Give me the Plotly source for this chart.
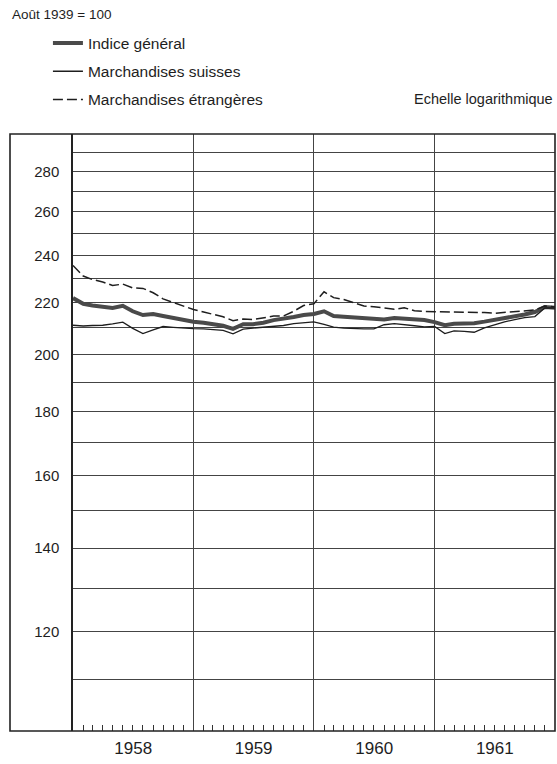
import plotly.graph_objects as go
import pandas as pd

# Monthly values, Jan 1958 .. Jan 1962 (month boundaries)
months = pd.date_range("1958-01-01", "1962-01-01", freq="MS")

indice_general = [221.8, 219.5, 218.8, 218.2, 217.8, 218.7, 216.5, 215.0, 215.4, 214.6,
                  213.8, 213.0, 212.4, 212.0, 211.6, 210.8, 209.6, 211.4, 211.4, 212.0,
                  213.0, 213.4, 214.2, 215.0, 215.4, 216.5, 214.6, 214.3, 214.0, 213.6,
                  213.2, 213.2, 213.8, 213.5, 213.1, 213.0, 212.2, 211.0, 211.6, 211.8,
                  211.8, 212.4, 213.0, 213.7, 214.4, 215.2, 216.2, 218.2, 217.9]

marchandises_suisses = [211.0, 210.7, 210.9, 211.0, 211.5, 212.2, 209.8, 207.8, 209.2, 210.5,
                        210.2, 209.9, 209.7, 209.6, 209.4, 209.0, 207.7, 209.5, 209.9, 210.3,
                        210.6, 210.9, 211.6, 212.0, 212.3, 211.3, 210.3, 209.9, 209.7, 209.6,
                        209.6, 211.2, 211.6, 211.1, 210.8, 210.4, 210.5, 207.8, 208.8, 208.6,
                        208.3, 210.0, 211.2, 212.3, 213.2, 214.0, 214.4, 217.8, 217.8]

marchandises_etrangeres = [235.5, 231.0, 229.5, 228.5, 227.0, 227.6, 226.0, 225.8, 224.0, 221.5,
                           220.0, 218.5, 217.2, 216.2, 215.4, 214.3, 212.8, 213.4, 213.2, 214.0,
                           214.6, 214.6, 216.5, 218.8, 219.5, 224.4, 222.0, 221.2, 219.8, 218.6,
                           218.3, 217.8, 217.3, 217.9, 216.7, 216.4, 216.3, 216.3, 216.3, 216.3,
                           216.2, 216.0, 215.7, 216.0, 216.6, 216.6, 217.0, 218.6, 218.2]

grid_values = list(range(110, 300, 10))
label_values = [120, 140, 160, 180, 200, 220, 240, 260, 280]
tick_text = [str(v) if v in label_values else "" for v in grid_values]

FONT = "Liberation Sans, Arial, sans-serif"
INK = "#1e1e1e"

fig = go.Figure()
fig.add_trace(go.Scatter(x=months, y=indice_general, mode="lines", name="Indice général",
                         line=dict(color="#4a4a4a", width=4), legendgroup="a"))
fig.add_trace(go.Scatter(x=months, y=marchandises_suisses, mode="lines", name="Marchandises suisses",
                         line=dict(color=INK, width=1.3), legendgroup="b"))
fig.add_trace(go.Scatter(x=months, y=marchandises_etrangeres, mode="lines", name="Marchandises étrangères",
                         line=dict(color=INK, width=1.5, dash="10px,4px"), legendgroup="c"))

fig.update_layout(
    width=557, height=764,
    margin=dict(l=73, r=2, t=134, b=33),
    paper_bgcolor="white", plot_bgcolor="white",
    font=dict(family=FONT, color=INK),
    showlegend=True,
    legend=dict(x=-0.052, xanchor="left", y=1.180, yanchor="top",
                font=dict(size=15.5, color=INK), tracegroupgap=5,
                bgcolor="rgba(0,0,0,0)", borderwidth=0),
    xaxis=dict(range=["1958-01-01", "1962-01-01"], type="date",
               dtick="M12", tick0="1958-01-01", tickformat="%Y", ticklabelmode="period",
               showgrid=True, gridcolor="#444444", gridwidth=1,
               ticks="", showline=False, zeroline=False,
               tickfont=dict(size=17, color=INK), ticklabelstandoff=5,
               minor=dict(dtick="M1", tick0="1958-01-01", ticks="inside", ticklen=6,
                          tickcolor="#333333", tickwidth=1, showgrid=False)),
    yaxis=dict(type="log", range=[2, 2.4771212547],
               tickmode="array", tickvals=grid_values, ticktext=tick_text,
               showgrid=True, gridcolor="#444444", gridwidth=1,
               showline=True, linecolor="#222222", linewidth=1.5,
               ticks="", zeroline=False, ticklabelstandoff=9,
               tickfont=dict(size=15, color=INK)),
    annotations=[
        dict(text="Août 1939 = 100", xref="paper", yref="paper", x=-0.131, y=1.201,
             xanchor="left", yanchor="middle", showarrow=False, font=dict(size=13.5, color=INK)),
        dict(text="Echelle logarithmique", xref="paper", yref="paper", x=1.0, y=1.058,
             xanchor="right", yanchor="middle", showarrow=False, font=dict(size=14.5, color=INK)),
    ],
    shapes=[
        dict(type="rect", xref="paper", yref="paper", x0=-0.1307, x1=1.0, y0=0, y1=1,
             line=dict(color="#222222", width=1.6), fillcolor="rgba(0,0,0,0)", layer="above"),
    ],
)

fig.write_html("out.html")
